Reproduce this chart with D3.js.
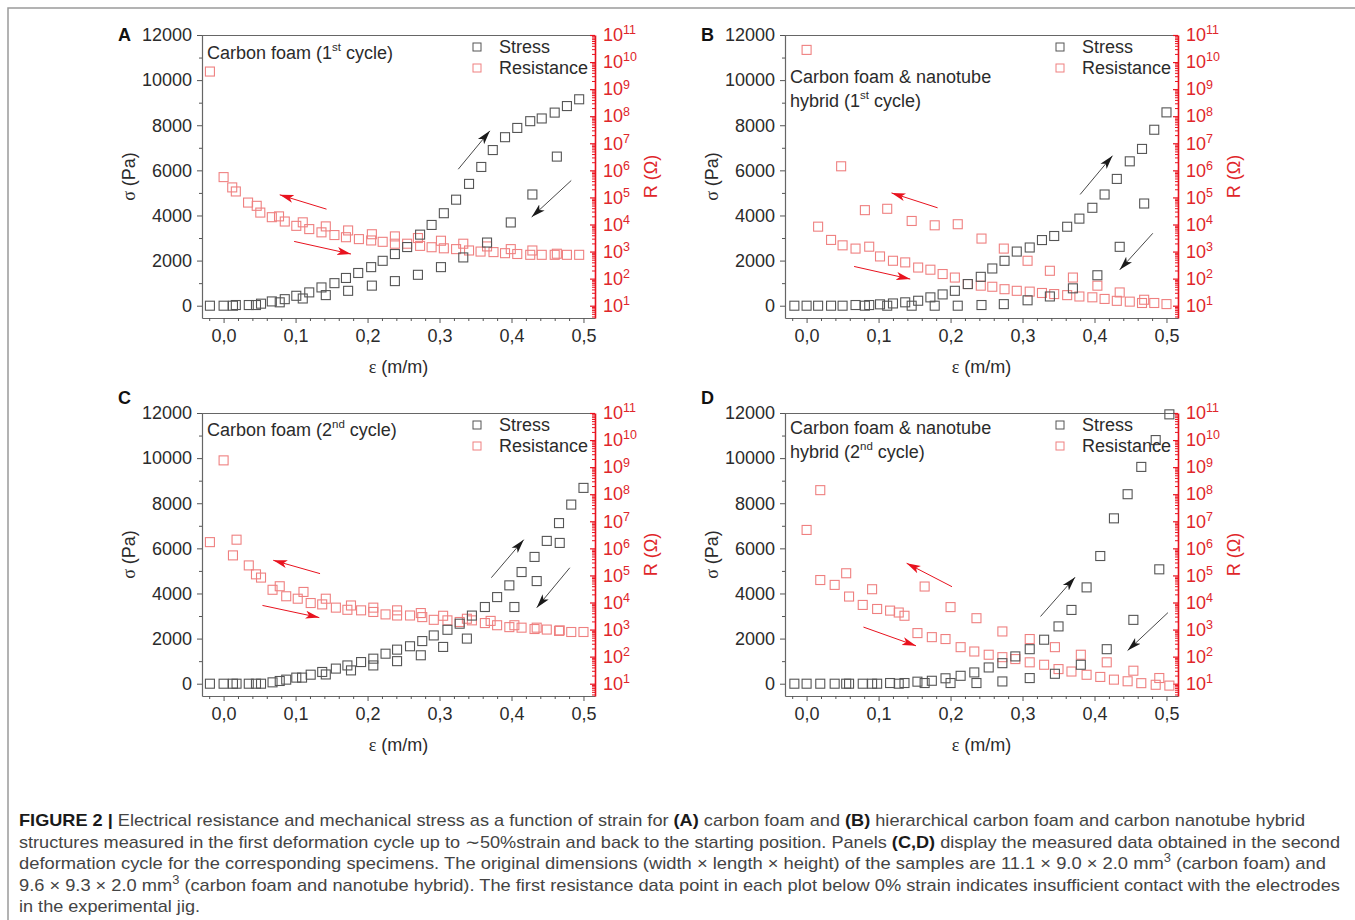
<!DOCTYPE html>
<html>
<head>
<meta charset="utf-8">
<script src="https://cdn.jsdelivr.net/npm/d3@7"></script>
<style>
  body { margin: 0; background: #fff; }
  svg text { font-family: "Liberation Sans", Arial, sans-serif; }
</style>
</head>
<body>
<script>
// tick values shared by all four panels
var strainTicks = [0, 0.1, 0.2, 0.3, 0.4, 0.5];
var stressTicks = [0, 2000, 4000, 6000, 8000, 10000, 12000];
var stressMinor = [1000, 3000, 5000, 7000, 9000, 11000];
var resDecades = [1, 2, 3, 4, 5, 6, 7, 8, 9, 10, 11];

// each point is [strain (m/m), stress (Pa)] or [strain, log10 R (Ohm)]
// A: carbon foam, 1st cycle
var aStress = [[-0.019,0],[0,0],[0.013,0],[0.017,30],[0.035,30],[0.045,30],[0.052,90],[0.067,190],[0.085,290],
  [0.101,440],[0.119,590],[0.136,810],[0.154,1000],[0.170,1230],[0.187,1450],[0.205,1710],[0.221,1990],[0.238,2290],
  [0.255,2600],[0.273,3150],[0.289,3580],[0.306,4100],[0.323,4700],[0.341,5400],[0.358,6150],[0.374,6900],[0.391,7470],
  [0.408,7880],[0.426,8180],[0.442,8300],[0.460,8560],[0.477,8850],[0.494,9150],
  [0.463,6610],[0.429,4930],[0.399,3690],[0.366,2800],[0.333,2140],[0.302,1710],[0.270,1370],[0.238,1090],[0.206,890],
  [0.173,660],[0.142,470],[0.110,320],[0.078,150]];
var aRes = [[-0.019,9.65],[0,5.75],[0.012,5.37],[0.017,5.22],[0.034,4.81],[0.046,4.69],[0.051,4.44],[0.067,4.27],
  [0.077,4.30],[0.085,4.11],[0.101,3.95],[0.110,4.08],[0.119,3.83],[0.136,3.71],[0.142,3.93],[0.154,3.61],[0.170,3.53],
  [0.173,3.78],[0.188,3.46],[0.205,3.41],[0.206,3.64],[0.221,3.36],[0.238,3.29],[0.238,3.56],[0.255,3.29],[0.270,3.50],
  [0.273,3.21],[0.289,3.16],[0.302,3.40],[0.306,3.12],[0.323,3.09],[0.333,3.29],[0.341,3.04],[0.357,3.00],[0.366,3.19],
  [0.375,2.98],[0.391,2.94],[0.399,3.09],[0.408,2.91],[0.426,2.88],[0.429,3.04],[0.442,2.88],[0.460,2.88],[0.463,2.92],
  [0.477,2.88],[0.494,2.88]];
// arrows: [strain1, stress1, strain2, stress2, colour]
var aArrows = [[0.326,6050,0.370,7750,"k"],[0.483,5550,0.428,3930,"k"],[0.143,4280,0.078,4915,"r"],[0.098,2850,0.177,2290,"r"]];

// B: carbon foam & nanotube hybrid, 1st cycle
var bStress = [[-0.017,0],[0,0],[0.016,0],[0.034,0],[0.050,0],[0.068,30],[0.081,0],[0.087,30],[0.102,60],[0.112,0],
  [0.120,100],[0.137,150],[0.146,0],[0.155,220],[0.172,370],[0.178,0],[0.189,500],[0.206,660],[0.210,0],[0.224,960],
  [0.242,1280],[0.243,30],[0.258,1650],[0.275,1990],[0.274,70],[0.292,2400],[0.307,240],[0.310,2580],[0.327,2910],
  [0.338,410],[0.344,3090],[0.362,3500],[0.370,770],[0.379,3860],[0.397,4340],[0.404,1350],[0.414,4930],[0.431,5620],
  [0.435,2610],[0.449,6400],[0.466,6950],[0.469,4530],[0.483,7800],[0.500,8570]];
var bRes = [[0,10.45],[0.048,6.15],[0.016,3.92],[0.034,3.43],[0.050,3.23],[0.068,3.11],[0.087,3.18],[0.081,4.53],
  [0.112,4.58],[0.102,2.82],[0.120,2.66],[0.137,2.60],[0.146,4.13],[0.155,2.41],[0.172,2.33],[0.178,3.97],[0.189,2.17],
  [0.206,2.04],[0.210,4.01],[0.224,1.80],[0.242,1.74],[0.243,3.48],[0.258,1.70],[0.274,3.11],[0.275,1.61],[0.292,1.55],
  [0.307,2.66],[0.310,1.52],[0.327,1.47],[0.338,2.29],[0.344,1.43],[0.362,1.39],[0.370,2.04],[0.379,1.34],[0.397,1.31],
  [0.404,1.74],[0.414,1.25],[0.431,1.18],[0.435,1.49],[0.449,1.15],[0.466,1.10],[0.469,1.22],[0.483,1.10],[0.500,1.06]];
var bArrows = [[0.380,4930,0.425,6650,"k"],[0.481,3210,0.435,1590,"k"],[0.182,4340,0.118,5000,"r"],[0.066,1740,0.144,1180,"r"]];

// C: carbon foam, 2nd cycle
var cStress = [[-0.019,0],[0,0],[0.013,0],[0.018,0],[0.035,0],[0.045,0],[0.052,0],[0.068,60],[0.078,120],[0.087,180],
  [0.101,270],[0.109,270],[0.121,400],[0.137,520],[0.142,410],[0.156,670],[0.172,810],[0.177,590],[0.191,960],
  [0.208,1110],[0.208,810],[0.225,1330],[0.241,1510],[0.241,1000],[0.259,1660],[0.276,1890],[0.274,1260],[0.292,2140],
  [0.311,2390],[0.305,1630],[0.328,2660],[0.345,3020],[0.338,2000],[0.363,3400],[0.380,3840],[0.404,3400],[0.397,4360],
  [0.414,4950],[0.435,4550],[0.432,5620],[0.449,6330],[0.467,6240],[0.466,7120],[0.483,7940],[0.500,8680]];
var cRes = [[-0.019,6.23],[0,9.25],[0.013,5.74],[0.018,6.32],[0.035,5.37],[0.045,5.04],[0.052,4.92],[0.068,4.47],
  [0.078,4.60],[0.087,4.23],[0.103,4.14],[0.111,4.39],[0.121,3.98],[0.137,3.93],[0.142,4.14],[0.156,3.81],[0.172,3.73],
  [0.177,3.89],[0.191,3.71],[0.208,3.65],[0.208,3.81],[0.225,3.56],[0.241,3.52],[0.241,3.71],[0.259,3.52],[0.276,3.46],
  [0.274,3.61],[0.292,3.36],[0.311,3.34],[0.305,3.51],[0.328,3.28],[0.338,3.40],[0.345,3.34],[0.363,3.24],[0.371,3.32],
  [0.380,3.16],[0.397,3.09],[0.404,3.16],[0.414,3.07],[0.435,3.07],[0.432,3.02],[0.449,3.00],[0.467,2.97],[0.466,2.95],
  [0.483,2.91],[0.500,2.91]];
var cArrows = [[0.372,4700,0.417,6385,"k"],[0.481,5140,0.435,3370,"k"],[0.134,4880,0.069,5470,"r"],[0.054,3470,0.133,2930,"r"]];

// D: carbon foam & nanotube hybrid, 2nd cycle
var dStress = [[-0.017,0],[0,0],[0.019,0],[0.039,0],[0.055,0],[0.059,0],[0.078,0],[0.091,0],[0.098,0],[0.116,30],
  [0.128,0],[0.136,30],[0.154,90],[0.164,30],[0.174,130],[0.193,240],[0.200,30],[0.214,350],[0.233,500],[0.236,30],
  [0.253,720],[0.272,910],[0.272,100],[0.290,1210],[0.310,250],[0.310,1530],[0.330,1950],[0.345,440],[0.350,2540],
  [0.368,3270],[0.381,840],[0.389,4270],[0.408,5660],[0.417,1530],[0.427,7330],[0.446,8400],[0.454,2830],[0.465,9610],
  [0.485,10800],[0.490,5070],[0.504,11940]];
var dRes = [[0,6.68],[0.019,8.15],[0.019,4.83],[0.039,4.65],[0.055,5.08],[0.059,4.22],[0.078,3.91],[0.091,4.49],
  [0.098,3.76],[0.116,3.70],[0.128,3.63],[0.136,3.51],[0.154,2.87],[0.164,4.59],[0.174,2.72],[0.193,2.65],[0.200,3.83],
  [0.214,2.35],[0.233,2.19],[0.236,3.42],[0.253,2.07],[0.272,1.98],[0.272,2.93],[0.290,1.91],[0.310,2.65],[0.310,1.79],
  [0.330,1.70],[0.345,2.35],[0.350,1.54],[0.368,1.45],[0.381,2.07],[0.389,1.33],[0.408,1.25],[0.417,1.79],[0.427,1.15],
  [0.446,1.09],[0.454,1.48],[0.465,1.02],[0.485,0.96],[0.490,1.21],[0.504,0.93]];
var dArrows = [[0.325,2980,0.373,4720,"k"],[0.502,3150,0.446,1470,"k"],[0.202,4300,0.139,5340,"r"],[0.079,2510,0.152,1680,"r"]];

// caption: [text, style] with style "b" bold, "sup" superscript, "" plain
var captionLines = [
  [["FIGURE 2 | ", "b"], ["Electrical resistance and mechanical stress as a function of strain for ", ""], ["(A)", "b"], [" carbon foam and ", ""], ["(B)", "b"], [" hierarchical carbon foam and carbon nanotube hybrid", ""]],
  [["structures measured in the first deformation cycle up to \u223C50%strain and back to the starting position. Panels ", ""], ["(C,D)", "b"], [" display the measured data obtained in the second", ""]],
  [["deformation cycle for the corresponding specimens. The original dimensions (width \u00D7 length \u00D7 height) of the samples are 11.1 \u00D7 9.0 \u00D7 2.0 mm", ""], ["3", "sup"], [" (carbon foam) and", ""]],
  [["9.6 \u00D7 9.3 \u00D7 2.0 mm", ""], ["3", "sup"], [" (carbon foam and nanotube hybrid). The first resistance data point in each plot below 0% strain indicates insufficient contact with the electrodes", ""]],
  [["in the experimental jig.", ""]]
];
var captionEnds = [1305, 1340, 1326, 1340, 200];

var panels = [
  {letter: "A", left: 202, top: 35, letterY: 0, stress: aStress, res: aRes, arrows: aArrows, title: [["Carbon foam (1", "st", " cycle)"]], titleY: 18},
  {letter: "B", left: 785, top: 35, letterY: 0, stress: bStress, res: bRes, arrows: bArrows, title: [["Carbon foam & nanotube", "", ""], ["hybrid (1", "st", " cycle)"]], titleY: 42},
  {letter: "C", left: 202, top: 413, letterY: -15, stress: cStress, res: cRes, arrows: cArrows, title: [["Carbon foam (2", "nd", " cycle)"]], titleY: 17},
  {letter: "D", left: 785, top: 413, letterY: -15, stress: dStress, res: dRes, arrows: dArrows, title: [["Carbon foam & nanotube", "", ""], ["hybrid (2", "nd", " cycle)"]], titleY: 15}
];

var plotW = 393, plotH = 283;
var stressColor = "#555555", resColor = "#ef8080", axisRed = "#e8121e", labelRed = "#e0262a";
var textColor = "#2b2b2b";

var svg = d3.select("body").append("svg").attr("width", 1355).attr("height", 920);

// arrow heads
var defs = svg.append("defs");
[["k", "#1a1a1a"], ["r", "#e8121e"]].forEach(function(m) {
  defs.append("marker").attr("id", "head-" + m[0])
    .attr("markerUnits", "userSpaceOnUse")
    .attr("markerWidth", 15).attr("markerHeight", 10)
    .attr("refX", 14).attr("refY", 5)
    .attr("orient", "auto")
    .append("path").attr("d", "M0,1 L14,5 L0,9 L3.5,5 z").attr("fill", m[1]);
});

// figure frame (right and bottom edges fall outside the picture)
svg.append("rect").attr("x", 8).attr("y", 8).attr("width", 1400).attr("height", 1000)
  .attr("fill", "none").attr("stroke", "#9a9a9a").attr("stroke-width", 1.5);

panels.forEach(drawPanel);
drawCaption();

function drawPanel(p) {
  var g = svg.append("g").attr("transform", "translate(" + p.left + "," + p.top + ")");

  var x = d3.scaleLinear().domain([-0.03, 0.516]).range([0, plotW]);
  var y = d3.scaleLinear().domain([-545, 12000]).range([plotH, 0]);
  var r = d3.scaleLog().domain([Math.pow(10, 1 - 545 / 1200), 1e11]).range([plotH, 0]);

  // top edge of the frame
  g.append("line").attr("x1", 0).attr("x2", plotW).attr("y1", 0.5).attr("y2", 0.5)
    .attr("stroke", "#666").attr("stroke-width", 1.2);

  // left stress axis
  var left = g.append("g").call(d3.axisLeft(y).tickValues(stressTicks).tickSize(5).tickSizeOuter(0).tickPadding(5).tickFormat(d3.format("d")));
  g.append("g").call(d3.axisLeft(y).tickValues(stressMinor).tickSize(3).tickFormat("")).select(".domain").remove();
  left.select(".domain").attr("stroke", "#666").attr("stroke-width", 1.2);
  left.selectAll("text").attr("font-size", "18px").attr("fill", textColor).attr("font-family", "Liberation Sans, Arial, sans-serif");

  // bottom strain axis
  var bottom = g.append("g").attr("transform", "translate(0," + plotH + ")")
    .call(d3.axisBottom(x).tickValues(strainTicks).tickSize(5).tickSizeOuter(0).tickPadding(6)
      .tickFormat(function(d) { return d.toFixed(1).replace(".", ","); }));
  var strainMinor = d3.range(-1, 26).map(function(i) { return i * 0.02; }).filter(function(v) { return Math.abs(v * 10 - Math.round(v * 10)) > 1e-6; });
  g.append("g").attr("transform", "translate(0," + plotH + ")")
    .call(d3.axisBottom(x).tickValues(strainMinor).tickSize(3).tickFormat("")).select(".domain").remove();
  bottom.select(".domain").attr("stroke", "#666").attr("stroke-width", 1.2);
  bottom.selectAll("text").attr("font-size", "18px").attr("fill", textColor).attr("font-family", "Liberation Sans, Arial, sans-serif");
  g.selectAll(".tick line").attr("stroke", "#555");

  // right resistance axis (log)
  var right = g.append("g").attr("transform", "translate(" + plotW + ",0)")
    .call(d3.axisRight(r).tickValues(resDecades.map(function(e) { return Math.pow(10, e); }))
      .tickSizeInner(-5).tickSizeOuter(0).tickPadding(8).tickFormat(""));
  var minorVals = [];
  [0].concat(resDecades).forEach(function(e) { for (var k = 2; k < 10; k++) minorVals.push(k * Math.pow(10, e)); });
  minorVals = minorVals.filter(function(v) { return v >= r.domain()[0] && v <= 1e11; });
  var rightMinor = g.append("g").attr("transform", "translate(" + plotW + ",0)")
    .call(d3.axisRight(r).tickValues(minorVals).tickSizeInner(-3).tickFormat(""));
  rightMinor.select(".domain").remove();
  rightMinor.selectAll("line").attr("stroke", axisRed);
  right.select(".domain").attr("stroke", axisRed).attr("stroke-width", 1.6);
  right.selectAll("line").attr("stroke", axisRed).attr("stroke-width", 1.2);
  right.selectAll(".tick text").each(function(d) {
    var t = d3.select(this).attr("font-size", "18px").attr("fill", labelRed).attr("text-anchor", "start");
    t.text("10");
    t.append("tspan").attr("dy", "-0.55em").attr("font-size", "12.5px").text(Math.round(Math.log10(d)));
  });

  // axis titles
  g.append("text").attr("transform", "translate(-73," + (plotH / 2) + ") rotate(-90)")
    .attr("text-anchor", "middle").attr("dy", "0.35em").attr("font-size", "18px").attr("fill", textColor)
    .call(function(t) {
      t.append("tspan").attr("font-family", "Liberation Serif, serif").text("\u03C3");
      t.append("tspan").text(" (Pa)");
    });
  g.append("text").attr("x", plotW / 2).attr("y", plotH + 49)
    .attr("text-anchor", "middle").attr("dy", "0.35em").attr("font-size", "18px").attr("fill", textColor)
    .call(function(t) {
      t.append("tspan").attr("font-family", "Liberation Serif, serif").text("\u03B5");
      t.append("tspan").text(" (m/m)");
    });
  g.append("text").attr("transform", "translate(" + (plotW + 56) + "," + (plotH / 2) + ") rotate(-90)")
    .attr("text-anchor", "middle").attr("dy", "0.35em").attr("font-size", "18px").attr("fill", labelRed)
    .text("R (\u03A9)");

  // panel letter
  g.append("text").attr("x", -84).attr("y", p.letterY).attr("dy", "0.35em")
    .attr("font-size", "18px").attr("font-weight", "bold").attr("fill", "#111").text(p.letter);

  // annotation text
  p.title.forEach(function(line, i) {
    var t = g.append("text").attr("x", 5).attr("y", p.titleY + i * 24).attr("dy", "0.35em")
      .attr("font-size", "18px").attr("fill", textColor);
    t.append("tspan").text(line[0]);
    if (line[1]) {
      t.append("tspan").attr("dy", -8).attr("font-size", "11.5px").text(line[1]);
      t.append("tspan").attr("dy", 8).text(line[2]);
    }
  });

  // data: resistance first, stress on top
  g.append("g").selectAll("rect").data(p.res).join("rect")
    .attr("x", function(d) { return x(d[0]) - 4.5; })
    .attr("y", function(d) { return r(Math.pow(10, d[1])) - 4.5; })
    .attr("width", 9).attr("height", 9)
    .attr("fill", "none").attr("stroke", resColor).attr("stroke-width", 1.1);
  g.append("g").selectAll("rect").data(p.stress).join("rect")
    .attr("x", function(d) { return x(d[0]) - 4.5; })
    .attr("y", function(d) { return y(d[1]) - 4.5; })
    .attr("width", 9).attr("height", 9)
    .attr("fill", "none").attr("stroke", stressColor).attr("stroke-width", 1.1);

  // arrows
  g.append("g").selectAll("line").data(p.arrows).join("line")
    .attr("x1", function(d) { return x(d[0]); }).attr("y1", function(d) { return y(d[1]); })
    .attr("x2", function(d) { return x(d[2]); }).attr("y2", function(d) { return y(d[3]); })
    .attr("stroke", function(d) { return d[4] === "k" ? "#333" : "#e8121e"; })
    .attr("stroke-width", function(d) { return d[4] === "k" ? 0.9 : 1; })
    .attr("marker-end", function(d) { return "url(#head-" + d[4] + ")"; });

  // legend
  var legend = [["Stress", stressColor], ["Resistance", resColor]];
  legend.forEach(function(l, i) {
    var ly = 12 + i * 21;
    g.append("rect").attr("x", plotW - 122).attr("y", ly - 4).attr("width", 8).attr("height", 8)
      .attr("fill", "none").attr("stroke", l[1]).attr("stroke-width", 1);
    g.append("text").attr("x", plotW - 96).attr("y", ly).attr("dy", "0.35em")
      .attr("font-size", "18px").attr("fill", textColor).text(l[0]);
  });
}

function drawCaption() {
  captionLines.forEach(function(line, i) {
    var t = svg.append("text").attr("x", 19).attr("y", 826 + i * 21.5)
      .attr("font-size", "17px").attr("fill", "#444")
      .attr("font-family", "Liberation Sans Narrow, Roboto, sans-serif")
      .attr("textLength", captionEnds[i] - 19).attr("lengthAdjust", "spacingAndGlyphs");
    var lifted = false;
    line.forEach(function(part) {
      var s = t.append("tspan").text(part[0]);
      if (part[1] === "b") s.attr("font-weight", "bold").attr("fill", "#1a1a1a");
      if (part[1] === "sup") { s.attr("dy", -7).attr("font-size", "12px"); lifted = true; }
      else if (lifted) { s.attr("dy", 7); lifted = false; }
    });
  });
}
</script>
</body>
</html>
